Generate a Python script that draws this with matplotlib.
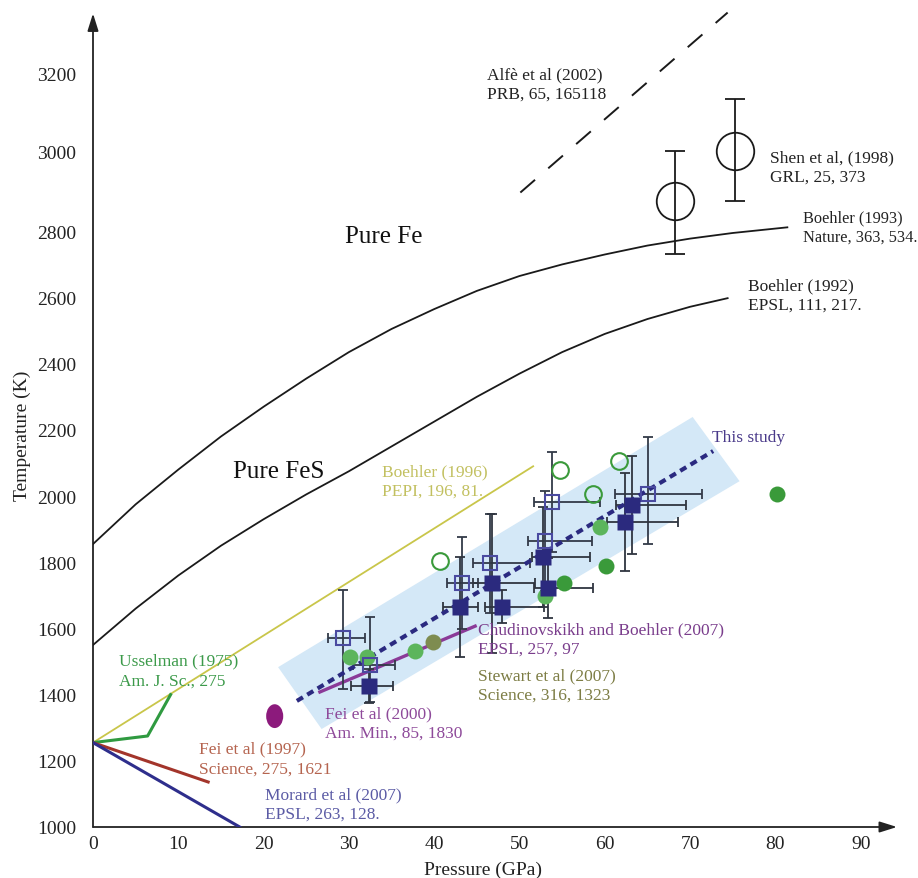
import numpy as np
import matplotlib
matplotlib.use("Agg")
import matplotlib.pyplot as plt
from matplotlib.patches import Ellipse

plt.rcParams['font.family'] = ['Liberation Serif', 'DejaVu Serif']

# ---------------- data ----------------
# Boehler (1993) Pure Fe melting curve
fe_P = [0, 5, 10, 15, 20, 25, 30, 35, 40, 45, 50, 55, 60, 65, 70, 75, 81.4]
fe_T = [1855, 1975, 2080, 2180, 2270, 2355, 2435, 2505, 2565, 2620, 2665, 2700, 2730, 2757, 2778, 2795, 2810]
# Boehler (1992) Pure FeS melting curve
fes_P = [0, 5, 10, 15, 20, 25, 30, 35, 40, 45, 50, 55, 60, 65, 70, 74.4]
fes_T = [1550, 1660, 1760, 1850, 1930, 2005, 2075, 2150, 2225, 2300, 2370, 2435, 2490, 2535, 2572, 2598]
# Boehler (1996)
b96_P = [0, 51.6]
b96_T = [1255, 2090]
# Usselman (1975)
uss_P = [0, 6.4, 9.1]
uss_T = [1255, 1275, 1400]
# Fei et al (1997)
fei97_P = [0, 13.5]
fei97_T = [1255, 1136]
# Morard et al (2007)
mor_P = [0, 17.2]
mor_T = [1255, 1000]
# Alfe et al (2002)
alfe_P = [50.1, 74.4]
alfe_T = [2897, 3356]
# Shen et al (1998)
shen_P = [68.2, 75.3]
shen_T = [2875, 3000]
shen_Tlo = [145, 125]
shen_Thi = [125, 133]
# This study: band and trend line
band_P = [21.7, 70.3, 75.8, 26.8]
band_T = [1483, 2239, 2045, 1296]
study_P = [23.9, 72.7]
study_T = [1381, 2136]
# Chudinovskikh and Boehler (2007)
chud_P = [26.6, 44.8]
chud_T = [1408, 1607]
# Fei et al (2000)
fei00_P = [21.3]
fei00_T = [1335]
# open squares
osq_P = [29.3, 32.5, 43.3, 46.5, 53.0, 53.8, 65.1]
osq_T = [1571, 1489, 1737, 1797, 1864, 1982, 2006]
osq_Plo = [1.8, 2.0, 1.8, 2.0, 2.0, 2.1, 3.9]
osq_Phi = [2.6, 2.9, 1.8, 4.7, 5.5, 5.6, 6.3]
osq_Tlo = [154, 112, 140, 150, 150, 150, 151]
osq_Thi = [145, 145, 140, 150, 150, 150, 172]
# filled squares
fsq_P = [32.3, 43.0, 46.8, 47.9, 52.8, 53.3, 62.4, 63.2]
fsq_T = [1426, 1665, 1737, 1665, 1816, 1722, 1921, 1973]
fsq_Plo = [2.1, 2.0, 2.2, 2.0, 1.3, 1.6, 2.1, 1.9]
fsq_Phi = [2.9, 2.1, 5.0, 5.0, 5.5, 5.3, 6.2, 6.3]
fsq_Tlo = [50, 150, 210, 50, 150, 90, 148, 148]
fsq_Thi = [50, 150, 210, 50, 150, 90, 148, 148]
# green circles (Stewart et al 2007 etc.)
gdark_P = [55.2, 60.1, 80.2]
gdark_T = [1737, 1788, 2006]
glight_P = [30.1, 32.1, 37.8, 59.4, 53.0]
glight_T = [1514, 1514, 1532, 1906, 1698]
golive_P = [39.9]
golive_T = [1559]
gopen_P = [40.7, 54.7, 58.6, 61.7]
gopen_T = [1804, 2078, 2006, 2106]

x_ticks = [0, 10, 20, 30, 40, 50, 60, 70, 80, 90]
y_ticks = [1000, 1200, 1400, 1600, 1800, 2000, 2200, 2400, 2600, 2800, 3000, 3200]

# ---------------- figure ----------------
W, H = 918, 879
fig = plt.figure(figsize=(W / 100, H / 100), dpi=100)
ax = fig.add_axes([93 / W, (H - 828) / H, (897 - 93) / W, (828 - 12) / H])

# the original temperature axis is slightly non-uniform above 2800 K
Tk = np.array([0.0, 1000.0, 2800.0, 3000.0, 3200.0, 5000.0])
Uk = np.array([0.0, 1000.0, 2800.0, 3041.7, 3277.3, 3277.3 + 1800 * 1.178])


def fwd(t):
    return np.interp(t, Tk, Uk)


def inv(u):
    return np.interp(u, Uk, Tk)


ax.set_yscale('function', functions=(fwd, inv))
ax.set_xlim(0, (897 - 93) / 8.53)
ax.set_ylim(1000, 3360)

for s in ax.spines.values():
    s.set_visible(False)
ax.set_xticks(x_ticks)
ax.set_yticks(y_ticks)
ax.set_xticklabels([str(v) for v in x_ticks])
ax.set_yticklabels([str(v) for v in y_ticks])
ax.yaxis.set_minor_locator(matplotlib.ticker.NullLocator())
ax.xaxis.set_minor_locator(matplotlib.ticker.NullLocator())
ax.tick_params(axis='both', length=0, labelsize=14, colors='#222222')
ax.tick_params(axis='y', pad=12)
ax.tick_params(axis='x', pad=6)

# axis arrows
arrow_kw = dict(arrowstyle='-|>,head_length=0.7,head_width=0.22', lw=1.3,
                color='#222222', mutation_scale=15, shrinkA=0, shrinkB=0)
ax.annotate('', xy=(1, 0), xytext=(0, 0), xycoords='axes fraction',
            arrowprops=arrow_kw, annotation_clip=False)
ax.annotate('', xy=(0, 0.997), xytext=(0, 0), xycoords='axes fraction',
            arrowprops=arrow_kw, annotation_clip=False)

# band for this study
ax.fill(band_P, band_T, color='#d4e8f7', lw=0, zorder=1)

# curves
ax.plot(fe_P, fe_T, color='#1a1a1a', lw=1.3, zorder=3)
ax.plot(fes_P, fes_T, color='#1a1a1a', lw=1.3, zorder=3)
ax.plot(b96_P, b96_T, color='#c9c64a', lw=1.3, zorder=3)
ax.plot(uss_P, uss_T, color='#2f9a40', lw=2.2, zorder=3)
ax.plot(fei97_P, fei97_T, color='#a3352b', lw=2.2, zorder=3)
ax.plot(mor_P, mor_T, color='#2e2e8c', lw=2.2, zorder=3)
ax.plot(alfe_P, alfe_T, color='#1a1a1a', lw=1.4, dashes=(10, 9), zorder=3,
        clip_on=False)
ax.plot(chud_P, chud_T, color='#8b3a98', lw=2.4, zorder=4)
ax.plot(study_P, study_T, color='#2b2a80', lw=3.0, dashes=(1.7, 1.2), zorder=6)

# Shen et al
ax.errorbar(shen_P, shen_T, yerr=[shen_Tlo, shen_Thi], fmt='o', ms=27,
            mfc='none', mec='#1a1a1a', mew=1.3, ecolor='#1a1a1a', elinewidth=1.3,
            capsize=7, capthick=1.3, zorder=5)

# error bars for squares
ax.errorbar(osq_P, osq_T, xerr=[osq_Plo, osq_Phi], yerr=[osq_Tlo, osq_Thi],
            fmt='none', ecolor='#333a48', elinewidth=1.3, capsize=3.5,
            capthick=1.3, zorder=5)
ax.errorbar(fsq_P, fsq_T, xerr=[fsq_Plo, fsq_Phi], yerr=[fsq_Tlo, fsq_Thi],
            fmt='none', ecolor='#2f3540', elinewidth=1.3, capsize=3.5,
            capthick=1.3, zorder=5)

# green circles
ax.plot(glight_P, glight_T, 'o', ms=11.5, color='#5cb55c', mec='none', zorder=6)
ax.plot(gdark_P, gdark_T, 'o', ms=11.5, color='#3a9a3a', mec='none', zorder=6)
ax.plot(golive_P, golive_T, 'o', ms=11.5, color='#7e8c50', mec='none', zorder=6)
ax.plot(gopen_P, gopen_T, 'o', ms=12, mfc='none', mec='#3a9a3a', mew=1.5, zorder=6)

# squares
ax.plot(osq_P, osq_T, 's', ms=10.5, mfc='none', mec='#4a4aa0', mew=1.5, zorder=7)
ax.plot(fsq_P, fsq_T, 's', ms=11, color='#2b2a7e', mec='none', zorder=7)

# Fei et al (2000) point
for p, t in zip(fei00_P, fei00_T):
    ax.add_patch(Ellipse((p, t), width=2.0, height=72, color='#8c1a7c', lw=0, zorder=6))

# ---------------- text ----------------
def note(x, y, s, color, size=12.5, **kw):
    ax.text(x, y, s, color=color, fontsize=size, ha='left', va='center',
            linespacing=1.3, zorder=8, **kw)


note(46.2, 3173, 'Alfè et al (2002)\nPRB, 65, 165118', '#222222')
note(79.4, 2960, 'Shen et al, (1998)\nGRL, 25, 373', '#222222')
note(83.2, 2810, 'Boehler (1993)\nNature, 363, 534.', '#222222', size=11.8, clip_on=False)
note(76.8, 2607, 'Boehler (1992)\nEPSL, 111, 217.', '#222222')
note(29.5, 2785, 'Pure Fe', '#111111', size=18)
note(16.4, 2075, 'Pure FeS', '#111111', size=18)
note(33.9, 2045, 'Boehler (1996)\nPEPI, 196, 81.', '#c2c060')
note(72.6, 2178, 'This study', '#4a3a8a')
note(3.0, 1473, 'Usselman (1975)\nAm. J. Sc., 275', '#3c9a4a')
note(12.4, 1207, 'Fei et al (1997)\nScience, 275, 1621', '#b5644f')
note(20.2, 1069, 'Morard et al (2007)\nEPSL, 263, 128.', '#5b5ba5')
note(27.2, 1314, 'Fei et al (2000)\nAm. Min., 85, 1830', '#8e4a9a')
note(45.1, 1569, 'Chudinovskikh and Boehler (2007)\nEPSL, 257, 97', '#7a3d8c')
note(45.1, 1430, 'Stewart et al (2007)\nScience, 316, 1323', '#7d7d45')

fig.text(22 / W, 1 - 436 / H, 'Temperature (K)', rotation=90, fontsize=14,
         ha='center', va='center', color='#222222')
fig.text(483 / W, 1 - 870 / H, 'Pressure (GPa)', fontsize=14,
         ha='center', va='center', color='#222222')

fig.savefig('out.png', dpi=100, facecolor='white')
